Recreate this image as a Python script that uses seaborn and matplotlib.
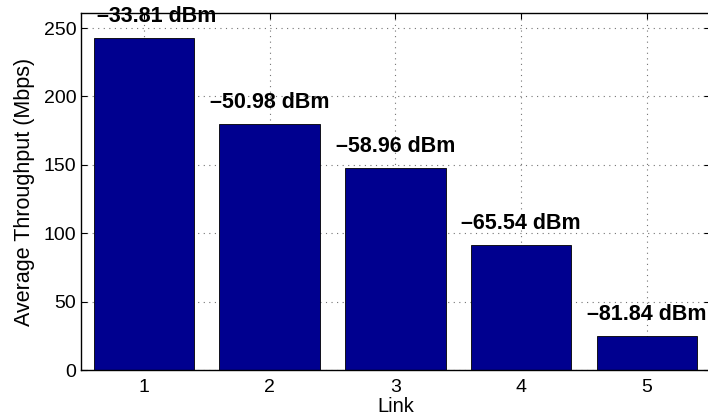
import matplotlib
matplotlib.use("Agg")
import matplotlib.pyplot as plt
import seaborn as sns
import pandas as pd

# Per-link measurements
links = [1, 2, 3, 4, 5]
throughput = [243, 180, 148, 91.5, 25]          # Mbps
rssi = [-33.81, -50.98, -58.96, -65.54, -81.84]  # dBm
y_ticks = [0, 50, 100, 150, 200, 250]

df = pd.DataFrame({"Link": links, "Throughput": throughput})

sns.set_style("ticks")
plt.rcParams["font.family"] = ["Liberation Sans", "DejaVu Sans"]
plt.rcParams["text.color"] = "black"
plt.rcParams["axes.labelcolor"] = "black"
plt.rcParams["xtick.color"] = "black"
plt.rcParams["ytick.color"] = "black"

fig = plt.figure(figsize=(7.08, 4.18), dpi=100)
ax = fig.add_axes([0.1144, 0.1148, 0.888, 0.854])

sns.barplot(data=df, x="Link", y="Throughput", native_scale=True, width=0.8,
            color=(0, 0, 0.5625), saturation=1, edgecolor="black",
            linewidth=0.6, ax=ax, zorder=2)

ax.set_xlim(0.5, 5.5)
ax.set_ylim(0, 261)
ax.set_xticks(links)
ax.set_xticklabels([str(v) for v in links])
ax.set_yticks(y_ticks)

ax.set_axisbelow(True)
ax.grid(True, linestyle=(0, (1, 4)), color="0.45", linewidth=0.8)

ax.tick_params(direction="in", top=True, right=True, length=4.5,
               width=0.8, labelsize=14)
ax.tick_params(axis="y", pad=3.5)
ax.tick_params(axis="x", pad=6.5)
for s in ax.spines.values():
    s.set_linewidth(1.0)
    s.set_color("black")

ax.set_xlabel("Link", fontsize=14.5, labelpad=0.5)
ax.set_ylabel("Average Throughput (Mbps)", fontsize=15.5, labelpad=6)

# Signal-strength annotations above each bar
for i, (x, h, r) in enumerate(zip(links, throughput, rssi)):
    text = f"{r:.2f} dBm".replace("-", "\u2013")
    xpos = x + 0.1 if i == 0 else x
    ax.annotate(text, (xpos, h), xytext=(0, 7.5), textcoords="offset points",
                ha="center", va="bottom", fontsize=15.5, fontweight="bold",
                annotation_clip=False, zorder=5)

fig.savefig("out.png", dpi=100)
